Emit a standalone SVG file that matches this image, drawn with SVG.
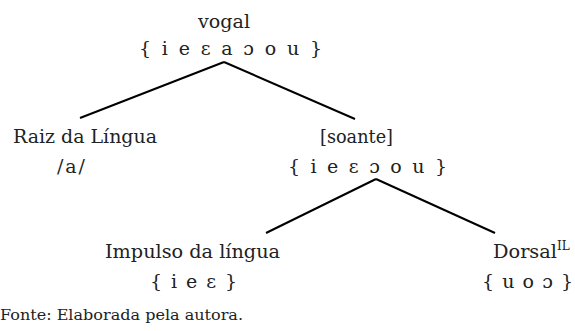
<svg xmlns="http://www.w3.org/2000/svg" width="575" height="331" viewBox="0 0 575 331">
<style>
text{font-family:'DejaVu Serif','Liberation Serif','Times New Roman',serif;font-size:19px;fill:#222}
.src{font-size:15.5px}
.edge{stroke:#000;stroke-width:2;fill:none}
</style>
<rect width="575" height="331" fill="#fff"/>
<g id="connectors">
<line class="edge" x1="224" y1="62" x2="80" y2="118"/>
<line class="edge" x1="224" y1="62" x2="355" y2="119"/>
<line class="edge" x1="376" y1="179" x2="266" y2="233"/>
<line class="edge" x1="376" y1="179" x2="495" y2="233"/>
</g>
<g id="vogal">
<text x="198" y="28" textLength="52" lengthAdjust="spacingAndGlyphs">vogal</text>
<text x="139" y="55" textLength="183" lengthAdjust="spacing">{ i e ɛ a ɔ o u }</text>
</g>
<g id="raiz">
<text x="13" y="143" textLength="144" lengthAdjust="spacingAndGlyphs">Raiz da Língua</text>
<text x="57" y="173" textLength="28" lengthAdjust="spacing">/a/</text>
</g>
<g id="soante">
<text x="320" y="143" textLength="73" lengthAdjust="spacingAndGlyphs">[soante]</text>
<text x="288" y="173" textLength="159" lengthAdjust="spacing">{ i e ɛ ɔ o u }</text>
</g>
<g id="impulso">
<text x="105" y="258" textLength="175" lengthAdjust="spacingAndGlyphs">Impulso da língua</text>
<text x="150" y="288" textLength="87" lengthAdjust="spacing">{ i e ɛ }</text>
</g>
<g id="dorsal">
<text x="493" y="258"><tspan textLength="64" lengthAdjust="spacingAndGlyphs">Dorsal</tspan><tspan font-size="12" dy="-8">IL</tspan></text>
<text x="482" y="288" textLength="91" lengthAdjust="spacing">{ u o ɔ }</text>
</g>
<text class="src" x="0" y="320" textLength="243" lengthAdjust="spacingAndGlyphs">Fonte: Elaborada pela autora.</text>
</svg>
